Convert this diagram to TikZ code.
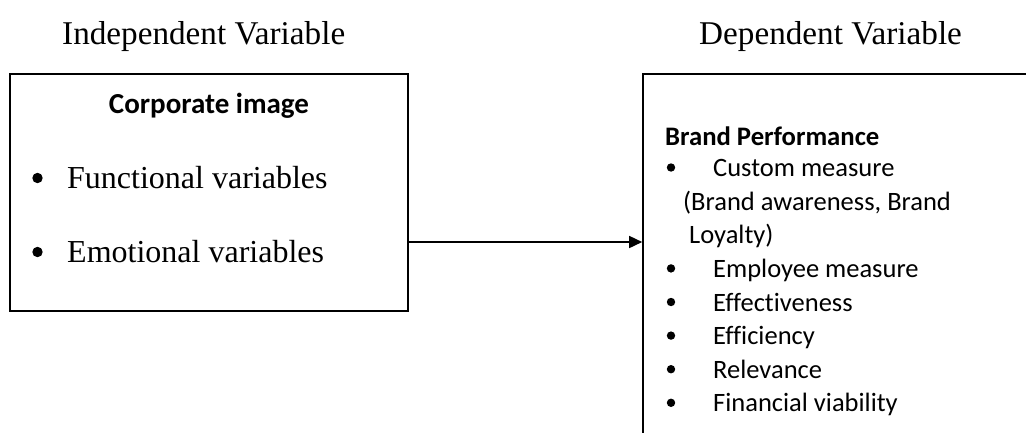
\documentclass[tikz,border=0pt]{standalone}
\usepackage{fontspec}
\setmainfont{Liberation Serif}
\newfontfamily\calibrifont[Ligatures=NoCommon]{Carlito}
\usetikzlibrary{arrows.meta}
\begin{document}
\begin{tikzpicture}[x=1pt,y=-1pt,
  boxstyle/.style={draw=black,line width=1.6pt,rectangle,inner sep=0pt},
  title/.style={anchor=base west,inner sep=0pt,font=\fontsize{33.2}{40}\selectfont},
  bigitem/.style={anchor=base west,inner sep=0pt,font=\fontsize{32}{38}\selectfont},
  head/.style={inner sep=0pt,font=\calibrifont\bfseries\fontsize{29}{35}\selectfont},
  rhead/.style={anchor=base west,inner sep=0pt,font=\calibrifont\bfseries\fontsize{26.7}{32}\selectfont},
  ritem/.style={anchor=base west,inner sep=0pt,font=\calibrifont\fontsize{26.5}{32}\selectfont},
  arrowline/.style={line width=1.6pt,-{Triangle[length=13pt,width=12pt]}}]
\useasboundingbox (0,0) rectangle (1026,432);
% titles
\node[title] (tind) at (62,44) {Independent Variable};
\node[title] (tdep) at (699,44) {Dependent Variable};
% left box
\node[boxstyle,minimum width=398pt,minimum height=237pt] (left) at (209,192.5) {};
\node[head,anchor=base] (corp) at (209,113) {Corporate image};
\fill (37.5,178) circle (5.2);
\node[bigitem] (func) at (67,188) {Functional variables};
\fill (37.5,252) circle (5.2);
\node[bigitem] (emo) at (67,262) {Emotional variables};
% right box (extends beyond the page)
\node[boxstyle,minimum width=460pt,minimum height=440pt] (right) at (873,294) {};
\node[rhead] (bp) at (665,145) {Brand Performance};
\fill (671,167.5) circle (4.2);
\node[ritem] (r1) at (713,176.6) {Custom measure};
\node[ritem] (r1b) at (683,210.2) {(Brand awareness, Brand};
\node[ritem] (r1c) at (689,243.8) {Loyalty)};
\fill (671,268.4) circle (4.2);
\node[ritem] (r2) at (713,277.4) {Employee measure};
\fill (671,302) circle (4.2);
\node[ritem] (r3) at (713,311) {Effectiveness};
\fill (671,335.6) circle (4.2);
\node[ritem] (r4) at (713,344.6) {Efficiency};
\fill (671,369.2) circle (4.2);
\node[ritem] (r5) at (713,378.2) {Relevance};
\fill (671,402.8) circle (4.2);
\node[ritem] (r6) at (713,411.8) {Financial viability};
% arrow
\draw[arrowline] ([yshift=-49.5pt]left.east) -- ([yshift=-49.5pt]left.east -| right.west);
\end{tikzpicture}
\end{document}
